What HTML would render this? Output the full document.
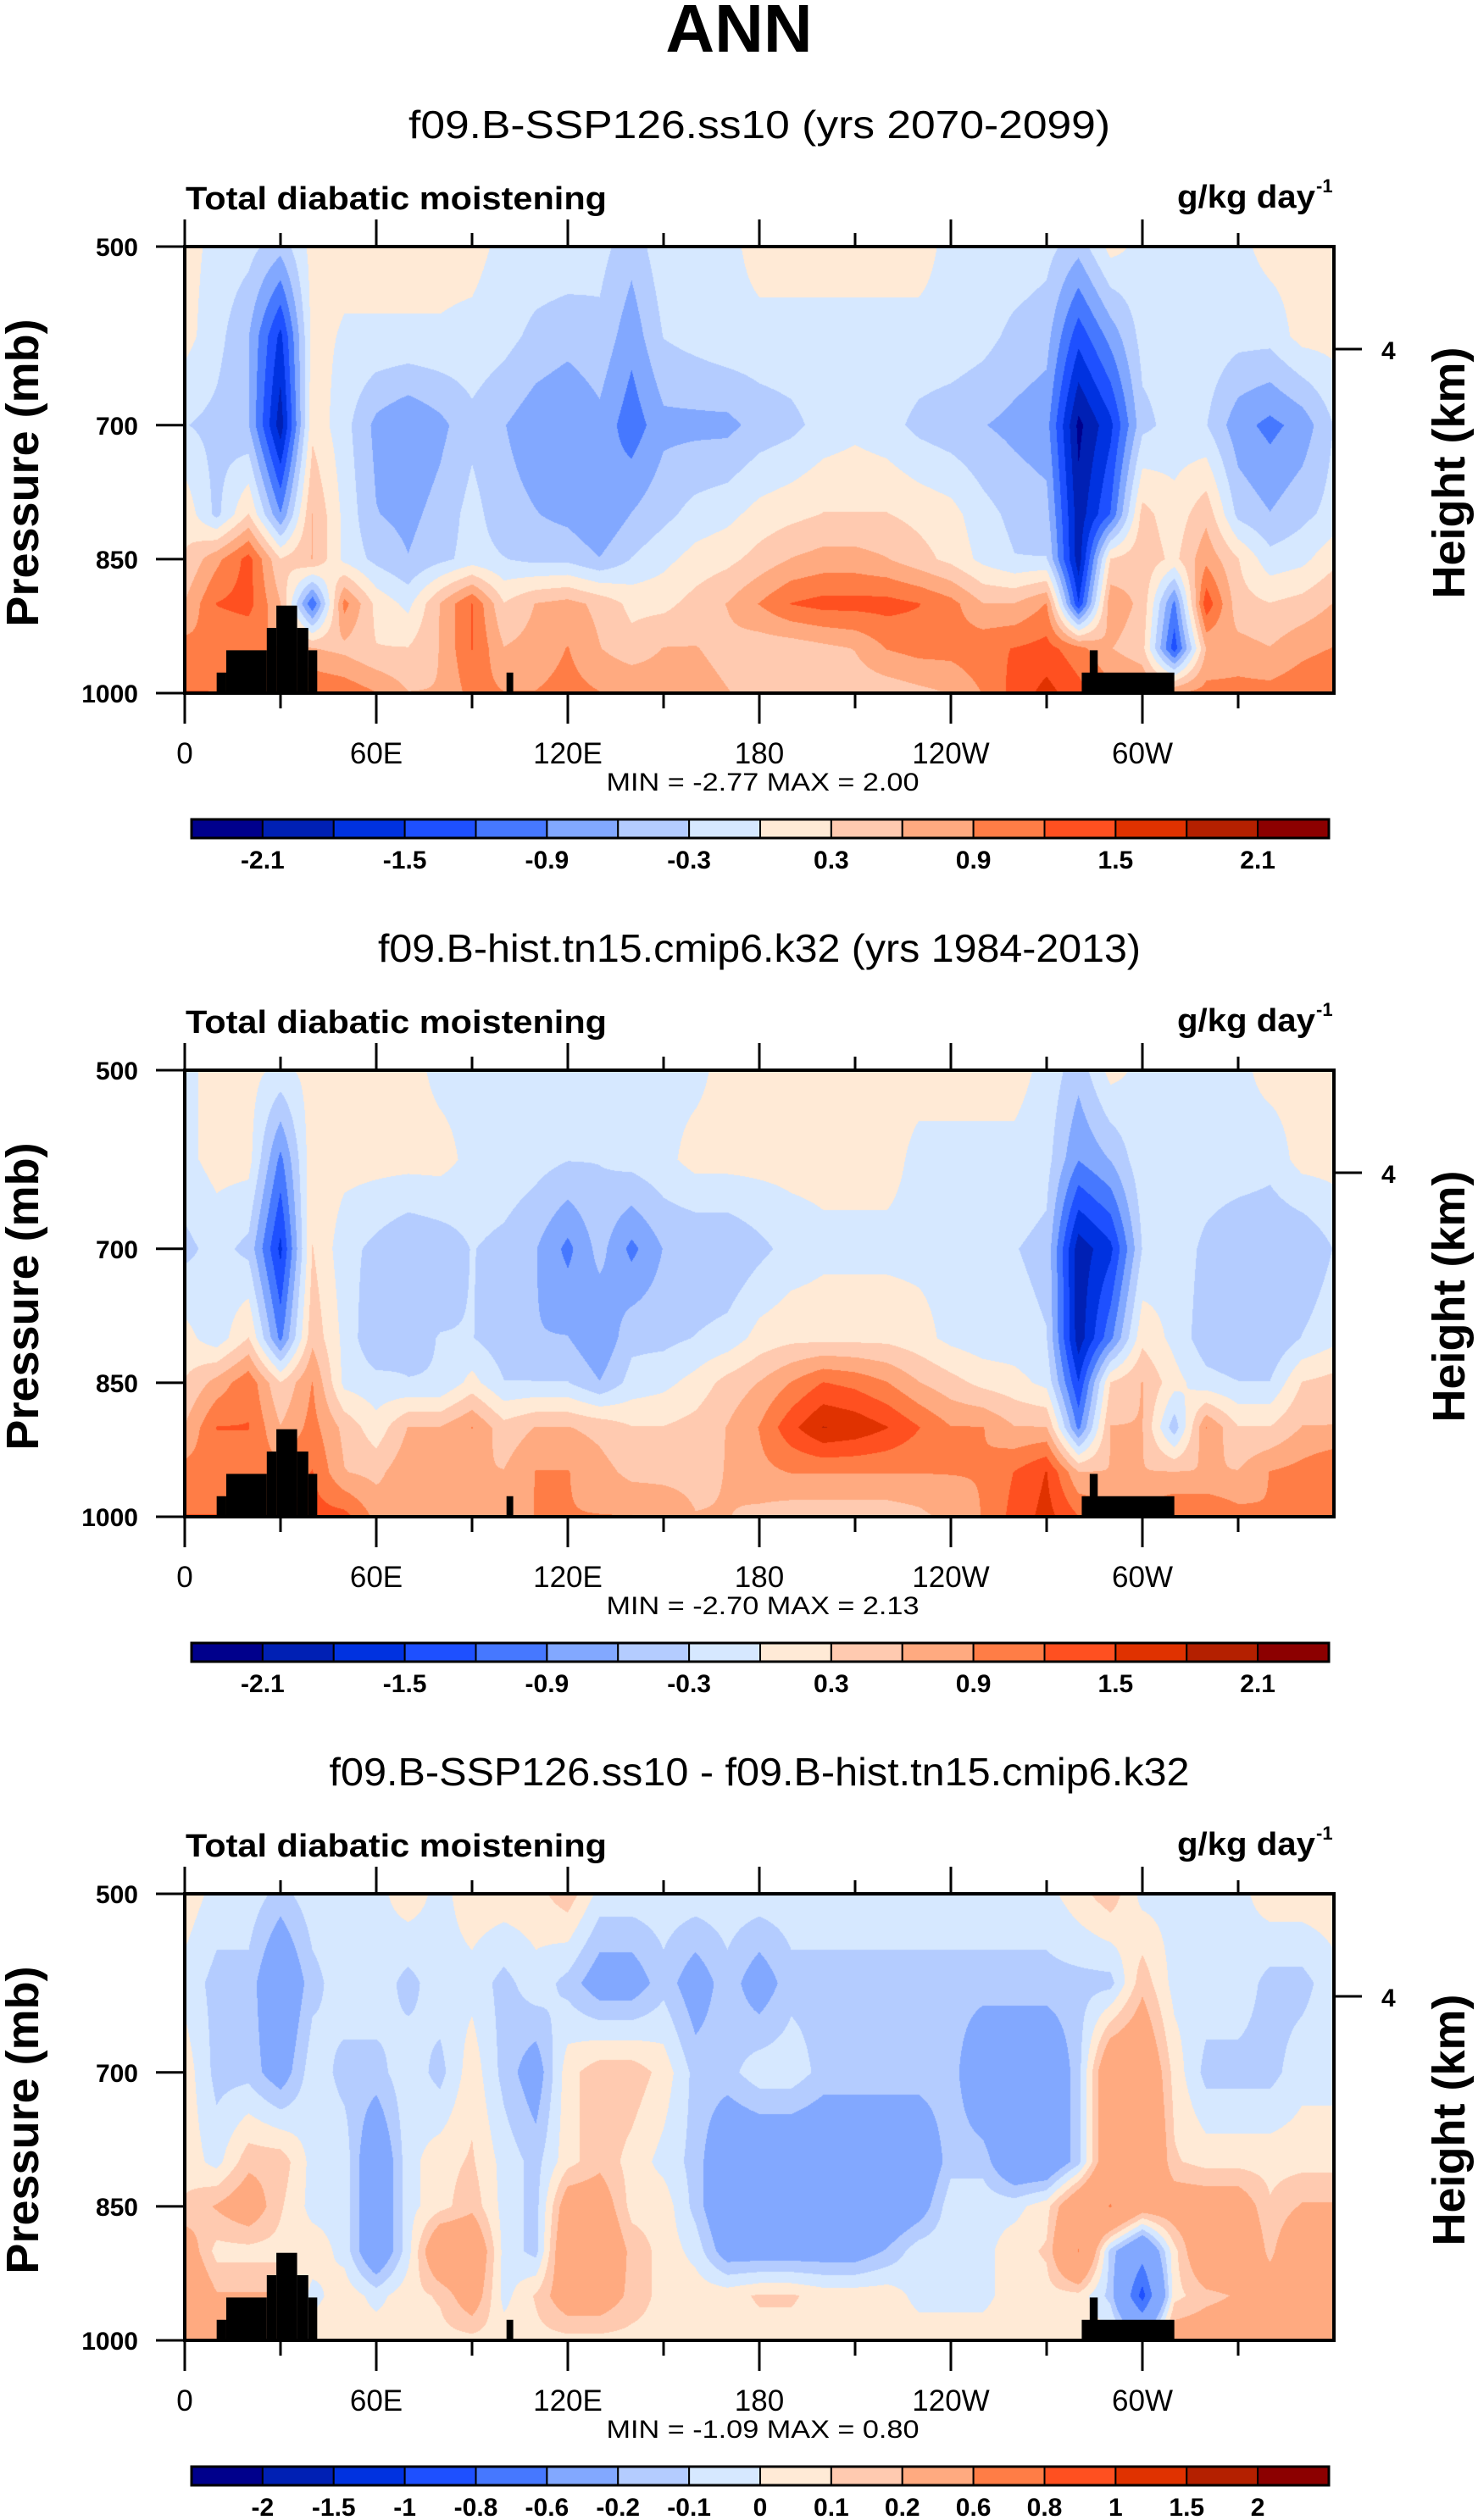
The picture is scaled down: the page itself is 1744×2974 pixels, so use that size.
<!DOCTYPE html>
<html><head><meta charset="utf-8">
<style>
html,body{margin:0;padding:0;background:#fff;}
#wrap{position:relative;width:1744px;height:2974px;overflow:hidden;background:#fff;}
canvas{position:absolute;}
svg{position:absolute;left:0;top:0;}
text{font-family:"Liberation Sans",Arial,sans-serif;fill:#000;}
</style></head>
<body>
<div id="wrap">
<svg id="ov" width="1744" height="2974" xmlns="http://www.w3.org/2000/svg">
<text x="872" y="61" text-anchor="middle" font-size="80" font-weight="bold">ANN</text>
</svg>
</div>
<script>
const lons = [0,10,20,30,40,50,60,70,80,90,100,110,120,130,140,150,160,170,180,190,200,210,220,230,240,250,260,270,280,290,300,310,320,330,340,350,360];
const pLevels = [500,600,700,800,850,900,950,1000];
const fieldSSP = [
[0.1,-0.1,-0.2,-0.5,0.1,0.1,0.1,0.1,0.1,0.1,-0.1,-0.1,-0.1,-0.2,-0.5,-0.1,-0.1,-0.1,0.1,0.1,0.1,0.1,0.1,0.1,-0.1,-0.1,-0.1,-0.2,-0.5,0.1,-0.1,-0.1,-0.1,-0.1,0.1,0.1,0.1],
[0.1,-0.2,-0.6,-1.6,0.1,-0.05,-0.05,-0.05,-0.05,-0.1,-0.2,-0.4,-0.5,-0.4,-0.8,-0.3,-0.2,-0.1,-0.1,-0.1,-0.1,-0.1,-0.1,-0.1,-0.1,-0.2,-0.4,-0.5,-1.4,-0.8,-0.2,-0.2,-0.1,-0.2,-0.2,0.1,0.1],
[-0.3,-0.4,-0.6,-2.0,0.2,-0.2,-0.7,-0.9,-0.7,-0.4,-0.6,-0.8,-0.9,-0.7,-1.1,-0.7,-0.7,-0.7,-0.5,-0.4,-0.2,-0.1,-0.2,-0.4,-0.5,-0.6,-0.7,-0.8,-2.2,-1.6,-0.4,-0.2,-0.3,-0.8,-1.0,-0.8,-0.3],
[0.2,-0.4,0.3,-0.9,0.6,-0.1,-0.6,-0.7,-0.5,-0.2,-0.5,-0.6,-0.7,-0.9,-0.6,-0.4,-0.2,-0.1,0.1,0.2,0.3,0.3,0.3,0.2,0.1,-0.2,-0.4,-0.5,-2.0,-1.2,0.4,0.1,0.5,-0.4,-0.6,-0.4,-0.2],
[0.3,0.8,1.3,0.3,0.6,-0.1,-0.4,-0.6,-0.4,-0.2,-0.3,-0.4,-0.4,-0.6,-0.3,-0.1,0.1,0.2,0.4,0.6,0.7,0.7,0.6,0.4,0.2,-0.1,-0.3,-0.3,-2.0,0.3,0.5,0.2,0.8,0.3,-0.2,-0.1,0.2],
[0.6,1.2,1.3,0.6,-1.2,1.0,0.2,-0.1,0.6,1.2,0.3,0.6,0.7,0.5,0.2,0.2,0.4,0.6,0.9,1.2,1.3,1.3,1.3,1.2,1.0,0.6,0.6,0.9,-1.5,0.8,0.5,-1.0,1.4,0.4,0.3,0.4,0.6],
[1.0,0.9,0.9,0.9,0.6,0.5,0.3,0.3,0.6,1.2,0.6,0.7,0.9,0.6,0.4,0.6,0.6,0.5,0.4,0.4,0.5,0.6,0.9,1.0,1.0,1.1,1.2,1.3,1.0,0.6,0.4,-1.4,0.6,0.7,0.6,0.8,0.9],
[1.2,1.2,1.2,1.2,1.2,1.1,0.9,0.6,0.6,1.0,0.9,0.9,1.0,0.9,0.9,0.8,0.7,0.6,0.5,0.4,0.4,0.4,0.4,0.5,0.6,0.9,1.3,1.6,1.3,1.0,0.9,0.9,1.0,1.0,1.0,1.1,1.2]
];
const fieldHist = [
[-0.1,0.1,0.1,-0.1,0.1,0.1,0.1,0.1,-0.1,-0.1,-0.1,-0.2,-0.1,-0.1,-0.1,-0.1,-0.1,0.1,0.1,0.1,0.1,0.1,0.1,0.1,0.1,0.1,0.1,-0.1,-0.5,0.1,-0.1,-0.1,-0.1,-0.1,0.1,0.1,0.1],
[-0.1,0.1,0.1,-1.0,0.2,0.1,0.1,0.1,0.1,-0.1,-0.1,-0.2,-0.3,-0.3,-0.2,-0.1,0.1,0.1,0.1,0.1,0.1,0.1,0.1,-0.1,-0.1,-0.1,-0.1,-0.2,-0.9,-0.6,-0.1,-0.1,-0.1,-0.1,-0.2,0.1,0.1],
[-0.4,-0.2,-0.4,-1.6,0.3,-0.2,-0.4,-0.6,-0.5,-0.3,-0.4,-0.6,-1.0,-0.5,-1.0,-0.6,-0.6,-0.6,-0.4,-0.2,-0.1,-0.1,-0.1,-0.1,-0.1,-0.2,-0.3,-0.4,-2.0,-1.6,-0.3,-0.1,-0.4,-0.6,-0.6,-0.6,-0.3],
[0.1,-0.2,0.3,-1.0,0.5,-0.1,-0.6,-0.4,-0.3,-0.3,-0.5,-0.6,-0.6,-0.9,-0.4,-0.4,-0.3,-0.2,0.1,0.2,0.2,0.2,0.2,0.1,-0.1,-0.2,-0.2,-0.3,-2.0,-1.0,0.2,-0.1,-0.5,-0.6,-0.6,-0.3,-0.1],
[0.3,0.7,1.1,0.3,0.9,-0.1,-0.2,-0.3,-0.3,0.1,-0.3,-0.3,-0.3,-0.6,-0.2,-0.1,0.1,0.4,0.6,0.9,1.2,1.1,0.9,0.6,0.4,0.2,0.1,-0.1,-1.5,0.3,0.6,0.1,-0.2,-0.3,-0.3,0.3,0.4],
[0.6,1.2,1.2,0.6,1.0,0.5,0.1,0.6,0.6,0.9,0.4,0.6,0.6,0.5,0.3,0.3,0.4,0.6,0.9,1.4,1.8,1.7,1.5,1.2,0.9,0.9,0.6,0.6,-1.0,0.6,0.6,-0.5,0.9,0.3,0.3,0.6,0.6],
[1.0,1.0,1.0,1.0,1.2,0.6,0.5,0.8,0.8,0.6,0.6,0.9,0.9,0.7,0.5,0.5,0.5,0.6,0.8,0.9,0.9,0.9,0.9,0.9,0.9,0.9,1.2,1.5,0.6,0.6,0.6,0.6,0.6,0.6,0.9,1.0,1.2],
[1.2,1.2,1.2,1.2,1.3,1.3,0.8,0.6,0.6,0.6,0.7,0.9,0.9,0.9,0.9,0.8,0.6,0.6,0.5,0.4,0.4,0.4,0.4,0.5,0.7,0.9,1.3,1.6,1.2,1.0,1.0,1.2,1.2,1.0,0.9,1.0,1.2]
];
const fieldDiff = [
[0.05,-0.05,-0.05,-0.15,-0.05,-0.05,-0.05,0.05,-0.05,0.05,0.05,0.05,0.15,-0.05,-0.05,-0.05,-0.05,-0.05,-0.05,-0.05,-0.05,-0.05,-0.05,-0.05,-0.05,-0.05,-0.05,-0.05,0.05,0.15,-0.05,-0.05,-0.05,-0.05,0.05,0.05,0.05],
[-0.05,-0.15,-0.15,-0.4,-0.15,-0.05,-0.05,-0.15,-0.05,-0.05,-0.15,-0.05,-0.15,-0.3,-0.3,-0.15,-0.3,-0.15,-0.3,-0.15,-0.15,-0.15,-0.15,-0.15,-0.15,-0.15,-0.15,-0.15,-0.15,-0.15,0.15,-0.05,-0.05,-0.05,-0.15,-0.15,-0.05],
[0.05,-0.15,-0.15,-0.3,-0.05,-0.15,-0.15,-0.05,-0.15,0.05,-0.15,-0.3,0.05,0.15,0.15,0.05,-0.15,-0.15,-0.05,-0.05,-0.15,-0.15,-0.15,-0.15,-0.15,-0.4,-0.4,-0.4,-0.15,0.4,0.4,0.05,-0.15,-0.15,-0.15,-0.05,-0.05],
[0.05,-0.05,0.15,0.15,-0.05,-0.05,-0.4,-0.05,0.05,0.1,-0.05,-0.15,0.05,0.15,0.05,-0.05,-0.15,-0.4,-0.4,-0.4,-0.4,-0.4,-0.4,-0.4,-0.15,-0.15,-0.4,-0.4,-0.15,0.4,0.5,0.1,0.05,0.05,0.05,0.05,0.05],
[0.1,0.2,0.3,0.1,-0.05,-0.05,-0.4,-0.05,0.05,0.15,-0.05,-0.15,0.3,0.3,0.05,0.05,-0.15,-0.4,-0.45,-0.45,-0.45,-0.45,-0.4,-0.3,-0.05,-0.05,-0.05,0.05,0.4,0.6,0.3,0.3,0.3,0.3,0.1,0.2,0.2],
[0.3,0.05,0.05,0.05,0.05,-0.05,-0.4,-0.05,0.4,0.4,-0.05,-0.15,0.4,0.4,0.15,0.05,-0.05,-0.3,-0.3,-0.3,-0.3,-0.3,-0.2,-0.05,-0.05,-0.05,0.05,0.1,0.6,-0.15,-0.5,0.05,0.4,0.4,0.15,0.4,0.4],
[0.4,0.2,0.2,0.2,-0.05,0.05,-0.05,0.05,0.1,0.3,-0.05,0.1,0.3,0.3,0.15,0.05,0.05,0.05,0.1,0.1,0.05,0.05,0.05,-0.05,-0.05,-0.05,0.05,0.05,0.05,-0.15,-0.9,0.05,0.15,0.2,0.3,0.3,0.3],
[0.3,0.3,0.3,0.3,0.05,0.05,0.05,0.05,0.05,0.05,0.05,0.05,0.05,0.05,0.05,0.05,0.05,0.05,0.05,0.05,0.05,0.05,0.05,0.05,0.05,0.05,0.05,0.05,0.05,0.05,-0.15,0.3,0.3,0.3,0.3,0.3,0.3]
];
const levelsAbs = [-2.1,-1.8,-1.5,-1.2,-0.9,-0.6,-0.3,0,0.3,0.6,0.9,1.2,1.5,1.8,2.1];
const labelsAbs = ["-2.1","","-1.5","","-0.9","","-0.3","","0.3","","0.9","","1.5","","2.1"];
const levelsDiff = [-2,-1.5,-1,-0.8,-0.6,-0.2,-0.1,0,0.1,0.2,0.6,0.8,1,1.5,2];
const labelsDiff = ["-2","-1.5","-1","-0.8","-0.6","-0.2","-0.1","0","0.1","0.2","0.6","0.8","1","1.5","2"];
const topoSteps = [[10,13,977],[13,25.7,952],[25.7,28.7,927],[28.7,35.2,902],[35.2,38.7,927],[38.7,41.5,952],[100.8,102.9,977],[281,310,977],[283.5,286,952]];
const xTickLons = [0,60,120,180,240,300];
const xTickLabels = ["0","60E","120E","180","120W","60W"];
const yTickP = [500,700,850,1000];
const titles = ["f09.B-SSP126.ss10 (yrs 2070-2099)","f09.B-hist.tn15.cmip6.k32 (yrs 1984-2013)","f09.B-SSP126.ss10 - f09.B-hist.tn15.cmip6.k32"];
const titleWidths = [828, 900, 1015];
const minMax = ["MIN =  -2.77  MAX =   2.00","MIN =  -2.70  MAX =   2.13","MIN =  -1.09  MAX =   0.80"];

const palette = ["#00008c","#0020b4","#0032e0","#1e50ff","#4678ff","#82a8ff","#b4ccff","#d6e8ff","#ffead6","#ffcab0","#ffaa80","#ff7d46","#ff5020","#e03200","#b42000","#8c0000"];
const PL=218, PR=1574, PT=291, PB=818, PW=PR-PL, PH=PB-PT, DY=972;
const NS="http://www.w3.org/2000/svg";
const svg=document.getElementById('ov');
const wrap=document.getElementById('wrap');
function xs(lon){return PL+lon/360*PW;}
function ys(p,off){return PT+off+(p-500)/500*PH;}
function mk(tag,attrs,txt){const e=document.createElementNS(NS,tag);for(const k in attrs)e.setAttribute(k,attrs[k]);if(txt!==undefined)e.textContent=txt;svg.appendChild(e);return e;}
function hex(c){return [parseInt(c.substr(1,2),16),parseInt(c.substr(3,2),16),parseInt(c.substr(5,2),16)];}
const rgb=palette.map(hex);
function sample(field,lon,p){
  let i=Math.min(lons.length-2,Math.floor(lon/10));let fx=(lon-lons[i])/(lons[i+1]-lons[i]);
  let j=0;while(j<pLevels.length-2&&p>pLevels[j+1])j++;
  let fy=(p-pLevels[j])/(pLevels[j+1]-pLevels[j]);fy=Math.max(0,Math.min(1,fy));
  const a=field[j][i],b=field[j][i+1],c=field[j+1][i],d=field[j+1][i+1];
  return (a*(1-fx)+b*fx)*(1-fy)+(c*(1-fx)+d*fx)*fy;
}
function drawPanel(k,field,levels,labels){
  const off=k*DY;
  const cv=document.createElement('canvas');
  cv.width=PW;cv.height=PH;cv.style.left=PL+'px';cv.style.top=(PT+off)+'px';
  
  
  wrap.insertBefore(cv,svg);
  const ctx=cv.getContext('2d');const img=ctx.createImageData(PW,PH);
  for(let y=0;y<PH;y++){const p=500+(y+0.5)/PH*500;
    for(let x=0;x<PW;x++){const lon=(x+0.5)/PW*360;const v=sample(field,lon,p)+0.013;
      let idx=0;while(idx<levels.length&&v>levels[idx])idx++;
      const c=rgb[idx];const o=(y*PW+x)*4;img.data[o]=c[0];img.data[o+1]=c[1];img.data[o+2]=c[2];img.data[o+3]=255;}}
  ctx.putImageData(img,0,0);
  topoSteps.forEach(s=>{const r=mk('rect',{x:xs(s[0]),y:ys(s[2],off),width:xs(s[1])-xs(s[0]),height:ys(1000,off)-ys(s[2],off),fill:'#000'});
    
    });
  const fr=mk('rect',{x:PL,y:PT+off,width:PW,height:PH,fill:'none',stroke:'#000','stroke-width':4});
  
  
  const t=mk('text',{x:896,y:163+off,'text-anchor':'middle','font-size':46,textLength:titleWidths[k],lengthAdjust:'spacingAndGlyphs'},titles[k]);
  
  
  const lt=mk('text',{x:219,y:247+off,'font-size':38,'font-weight':'bold',textLength:497,lengthAdjust:'spacingAndGlyphs'},'Total diabatic moistening');
  
  
  const ut=mk('text',{x:1389,y:245+off,'font-size':38,'font-weight':'bold',textLength:163,lengthAdjust:'spacingAndGlyphs'},'g/kg day');
  
  
  const us=mk('text',{x:1553,y:227+off,'font-size':22,'font-weight':'bold'},'-1');
  
  
  for(let lon=0;lon<360;lon+=30){const major=lon%60===0;const x=xs(lon);
    const t1=mk('line',{x1:x,x2:x,y1:PT+off,y2:PT+off-(major?32:16),stroke:'#000','stroke-width':3});
    
    
    const t2=mk('line',{x1:x,x2:x,y1:PB+off,y2:PB+off+(major?36:18),stroke:'#000','stroke-width':3});
    
    }
  xTickLons.forEach((lon,i)=>{const l=mk('text',{x:xs(lon),y:901+off,'text-anchor':'middle','font-size':35},xTickLabels[i]);
    
    });
  yTickP.forEach(p=>{const y=ys(p,off);
    const l=mk('line',{x1:PL-34,x2:PL,y1:y,y2:y,stroke:'#000','stroke-width':3});
    
    
    const tl=mk('text',{x:163,y:y+11,'text-anchor':'end','font-size':30,'font-weight':'bold'},String(p));
    
    });
  const rt=mk('line',{x1:PR,x2:PR+33,y1:412+off,y2:412+off,stroke:'#000','stroke-width':3});
  
  
  const rl=mk('text',{x:1630,y:424+off,'font-size':30,'font-weight':'bold'},'4');
  
  
  const ya=mk('text',{x:0,y:0,'text-anchor':'middle','font-size':54,'font-weight':'bold',transform:'translate(45,'+(558+off)+') rotate(-90)'},'Pressure (mb)');
  
  
  const ha=mk('text',{x:0,y:0,'text-anchor':'middle','font-size':54,'font-weight':'bold',transform:'translate(1728,'+(558+off)+') rotate(-90)'},'Height (km)');
  
  
  const mm=mk('text',{x:900,y:933+off,'text-anchor':'middle','font-size':30,'xml:space':'preserve',textLength:369,lengthAdjust:'spacingAndGlyphs'},minMax[k]);
  
  
  const cx0=226,cx1=1568,cy0=967+off,cy1=989+off,bw=(cx1-cx0)/16;
  palette.forEach((c,i)=>{const r=mk('rect',{x:cx0+i*bw,y:cy0,width:bw,height:cy1-cy0,fill:c,stroke:'#000','stroke-width':2});
    
    });
  const ob=mk('rect',{x:cx0,y:cy0,width:cx1-cx0,height:cy1-cy0,fill:'none',stroke:'#000','stroke-width':3});
  
  
  labels.forEach((s,i)=>{if(!s)return;const l=mk('text',{x:cx0+(i+1)*bw,y:1025+off,'text-anchor':'middle','font-size':30,'font-weight':'bold'},s);
    
    });
}
drawPanel(0,fieldSSP,levelsAbs,labelsAbs);
drawPanel(1,fieldHist,levelsAbs,labelsAbs);
drawPanel(2,fieldDiff,levelsDiff,labelsDiff);
</script>
</body></html>
